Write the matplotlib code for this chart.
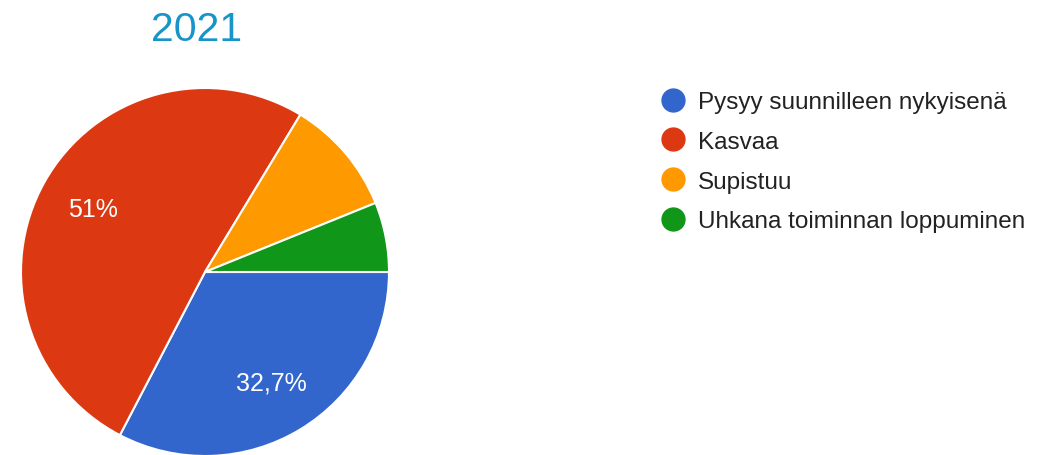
import matplotlib.pyplot as plt
from matplotlib.lines import Line2D

plt.rcParams['font.family'] = ['Liberation Sans', 'DejaVu Sans']

# answers 2021 (n = 49)
labels = ["Pysyy suunnilleen nykyisenä", "Kasvaa", "Supistuu", "Uhkana toiminnan loppuminen"]
counts = [16, 25, 5, 3]
colors = ["#3366cc", "#dc3912", "#ff9900", "#109618"]
title = "2021"


def fmt_pct(p):
    if p < 20:
        return ""
    s = f"{p:.1f}".rstrip("0").rstrip(".")
    return s.replace(".", ",") + "%"


fig = plt.figure(figsize=(10.53, 4.56), dpi=100)
ax = fig.add_axes([0, 0, 1, 1])

wedges, texts, autotexts = ax.pie(
    counts,
    colors=colors,
    startangle=0,
    counterclock=False,
    center=(205, 183),
    radius=184,
    autopct=fmt_pct,
    pctdistance=0.7,
    wedgeprops=dict(edgecolor="white", linewidth=1.5),
    textprops=dict(color="white", fontsize=18),
)
ax.set_xlim(0, 1053)
ax.set_ylim(0, 456)
ax.set_aspect("equal")
ax.axis("off")

fig.text(197 / 1053, 1 - 30 / 456, title, ha="center", va="center",
         fontsize=29.5, color="#1794c8")

handles = [Line2D([], [], marker="o", linestyle="", markersize=16.5,
                  markerfacecolor=c, markeredgecolor=c) for c in colors]
fig.legend(handles, labels, loc="upper left", bbox_to_anchor=(655 / 1053, 1 - 92 / 456),
           frameon=False, fontsize=17.5, labelspacing=0.73, handletextpad=0.25,
           borderpad=0, borderaxespad=0, handlelength=1.5, labelcolor="#222222")

fig.savefig("out.png", dpi=100)
